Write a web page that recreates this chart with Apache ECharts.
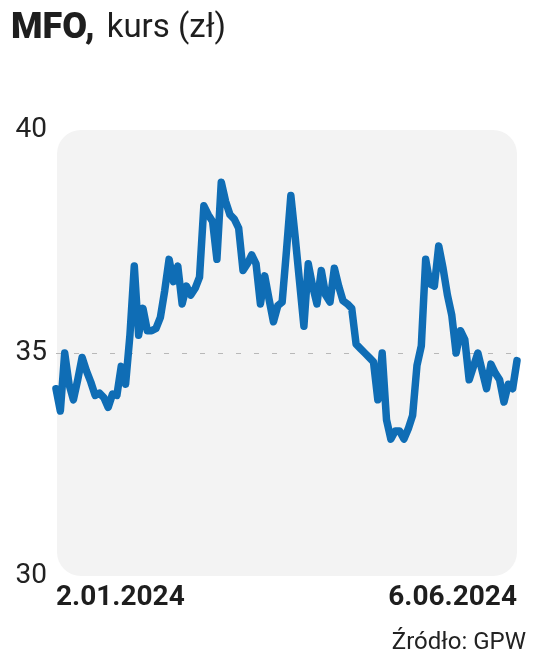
<!DOCTYPE html>
<html>
<head>
<meta charset="utf-8">
<script src="https://cdn.jsdelivr.net/npm/echarts@6/dist/echarts.min.js"></script>
<style>
html,body{margin:0;padding:0;background:#fff;}
#c{width:536px;height:659px;}
</style>
</head>
<body>
<div id="c"></div>
<script>
const startLabel = '2.01.2024';
const endLabel = '6.06.2024';
const yTicks = [30, 35, 40];
const prices = [
  34.2, 33.7, 35.0, 34.3, 33.95, 34.4, 34.9, 34.6, 34.35, 34.05,
  34.1, 34.0, 33.78, 34.08, 34.05, 34.7, 34.3, 35.4, 36.95, 35.4,
  36.0, 35.5, 35.5, 35.55, 35.8, 36.4, 37.1, 36.6, 36.95, 36.1,
  36.5, 36.3, 36.45, 36.7, 38.3, 38.1, 37.95, 37.1, 38.83, 38.4,
  38.1, 38.0, 37.8, 36.85, 37.0, 37.2, 37.0, 36.1, 36.73, 36.2,
  35.7, 36.06, 36.14, 37.3, 38.53, 37.6, 36.6, 35.6, 37.0, 36.5,
  36.1, 36.85, 36.3, 36.14, 36.9, 36.5, 36.17, 36.1, 36.0, 35.2,
  35.1, 35.0, 34.9, 34.8, 33.95, 35.0, 33.5, 33.07, 33.25, 33.25,
  33.07, 33.3, 33.6, 34.72, 35.16, 37.1, 36.55, 36.5, 37.4, 36.9,
  36.3, 35.85, 35.0, 35.5, 35.3, 34.4, 34.7, 35.0, 34.6, 34.2,
  34.75, 34.55, 34.4, 33.9, 34.3, 34.2, 34.83
];
const last = prices.length - 1;
const categories = prices.map((v, i) => {
  if (i === 0) return { value: startLabel, textStyle: { align: 'left' } };
  if (i === last) return { value: endLabel, textStyle: { align: 'right' } };
  return { value: 'd' + i };
});

const chart = echarts.init(document.getElementById('c'), null, { renderer: 'canvas' });
chart.setOption({
  animation: false,
  backgroundColor: '#ffffff',
  title: [
    {
      left: 6, top: 2,
      text: '{b|MFO,}{n|kurs (zł)}',
      textStyle: {
        rich: {
          b: { fontFamily: 'Roboto', fontWeight: 900, fontSize: 36, color: '#1e1e1e', lineHeight: 44, padding: [0, 12, 0, 0] },
          n: { fontFamily: 'Roboto', fontWeight: 'normal', fontSize: 33, color: '#1e1e1e', lineHeight: 44 }
        }
      }
    },
    {
      right: 5, top: 626,
      text: 'Źródło: GPW',
      textStyle: { fontFamily: 'Roboto', fontWeight: 'normal', fontSize: 24, color: '#222' }
    }
  ],
  graphic: [
    {
      type: 'rect', z: -10, silent: true,
      shape: { x: 57, y: 130, width: 460, height: 446, r: 24 },
      style: { fill: '#f3f3f3' }
    }
  ],
  grid: { left: 56, right: 19, top: 130, bottom: 83, containLabel: false },
  xAxis: {
    type: 'category',
    boundaryGap: false,
    data: categories,
    axisLine: { show: false },
    axisTick: { show: false },
    splitLine: { show: false },
    axisLabel: {
      interval: (i) => i === 0 || i === last,
      margin: 8,
      fontFamily: 'Roboto',
      fontWeight: 'bold',
      fontSize: 28,
      color: '#1e1e1e'
    }
  },
  yAxis: {
    type: 'value',
    min: yTicks[0],
    max: yTicks[yTicks.length - 1],
    interval: 5,
    axisLine: { show: false },
    axisTick: { show: false },
    axisLabel: {
      margin: 9,
      fontFamily: 'Roboto',
      fontSize: 28,
      color: '#222'
    },
    splitLine: {
      show: true,
      lineStyle: { color: ['rgba(0,0,0,0)', '#b8b8b8', 'rgba(0,0,0,0)'], type: [5, 13], width: 1 }
    }
  },
  series: [
    {
      type: 'line',
      data: prices,
      showSymbol: false,
      symbol: 'none',
      z: 5,
      lineStyle: { color: '#0f6db5', width: 7.5, join: 'round', cap: 'round' }
    }
  ]
});
</script>
</body>
</html>
